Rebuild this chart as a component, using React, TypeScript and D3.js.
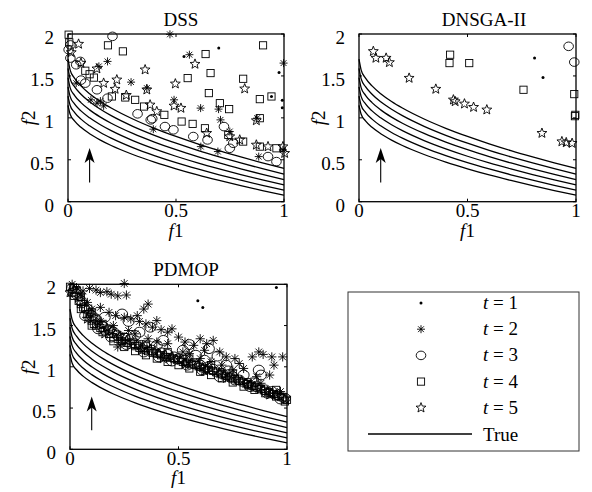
import React from "react";
import * as d3 from "d3";

// ---- tick values ----
const X_TICKS = [0, 0.5, 1];
const Y_TICKS = [0, 0.5, 1, 1.5, 2];
const X_TICK_LABELS = ["0", "0.5", "1"];
const Y_TICK_LABELS = ["0", "0.5", "1", "1.5", "2"];

// ---- true Pareto fronts (f2 sampled at CURVE_F1) ----
const CURVE_F1 = [0, 0.01, 0.03, 0.06, 0.1, 0.15, 0.2, 0.3, 0.4, 0.5, 0.6, 0.7, 0.8, 0.9, 1.0];
const TRUE_FRONT_1 = [1.15, 1.043, 0.964, 0.887, 0.811, 0.735, 0.670, 0.563, 0.472, 0.392, 0.319, 0.253, 0.191, 0.133, 0.078];
const TRUE_FRONT_2 = [1.26, 1.148, 1.066, 0.985, 0.905, 0.825, 0.758, 0.645, 0.550, 0.466, 0.391, 0.321, 0.256, 0.195, 0.138];
const TRUE_FRONT_3 = [1.37, 1.253, 1.167, 1.083, 1.000, 0.917, 0.847, 0.729, 0.630, 0.542, 0.463, 0.391, 0.323, 0.260, 0.200];
const TRUE_FRONT_4 = [1.48, 1.358, 1.269, 1.182, 1.095, 1.009, 0.936, 0.814, 0.711, 0.620, 0.538, 0.462, 0.392, 0.326, 0.263];
const TRUE_FRONT_5 = [1.59, 1.464, 1.372, 1.281, 1.191, 1.102, 1.026, 0.899, 0.792, 0.698, 0.613, 0.535, 0.462, 0.394, 0.329];
const TRUE_FRONT_6 = [1.70, 1.570, 1.474, 1.381, 1.288, 1.195, 1.117, 0.986, 0.875, 0.778, 0.690, 0.609, 0.534, 0.463, 0.396];
const TRUE_FRONTS = [TRUE_FRONT_1, TRUE_FRONT_2, TRUE_FRONT_3, TRUE_FRONT_4, TRUE_FRONT_5, TRUE_FRONT_6];

// arrow showing the direction the front moves over time
const ARROW_F1 = 0.1;
const ARROW_FROM = 0.23;
const ARROW_TO = 0.64;

// ---- DSS ----
const DSS_T1 = [[0.537, 1.733], [0.698, 1.833], [0.977, 1.54], [0.992, 1.21], [0.992, 1.12], [0.942, 1.255]];
const DSS_T2 = [[0.472, 1.996], [0.562, 1.753], [0.998, 1.653], [0.292, 1.426], [0.183, 1.673], [0.143, 1.614],
  [0.038, 1.414], [0.491, 1.215], [0.614, 1.116], [0.697, 1.104], [0.706, 0.976], [0.395, 0.865], [0.615, 0.657],
  [0.694, 0.598], [0.883, 0.538], [0.749, 0.837], [0.106, 1.215], [0.134, 1.175], [0.165, 1.143], [0.995, 0.618],
  [0.365, 1.355], [0.875, 0.996], [0.15, 1.2]];
const DSS_T3 = [[0.206, 1.972], [0.003, 1.813], [0.011, 1.713], [0.057, 1.673], [0.08, 1.414], [0.06, 1.45],
  [0.134, 1.335], [0.183, 1.235], [0.322, 1.048], [0.383, 0.976], [0.449, 0.896], [0.488, 0.857], [0.58, 0.777],
  [0.646, 0.737], [0.722, 0.896], [0.765, 0.697], [0.749, 0.637], [0.926, 0.538], [0.965, 0.478], [0.038, 1.633],
  [0.011, 1.87], [0.39, 0.99]];
const DSS_T4 = [[0.003, 1.992], [0.185, 1.865], [0.254, 1.793], [0.637, 1.761], [0.903, 1.865], [0.66, 1.534],
  [0.554, 1.474], [0.652, 1.295], [0.703, 1.175], [0.746, 1.104], [0.811, 1.466], [0.888, 1.223], [0.942, 1.255],
  [0.888, 0.996], [0.08, 1.562], [0.1, 1.52], [0.203, 1.255], [0.265, 1.243], [0.311, 1.215], [0.352, 1.135],
  [0.446, 1.036], [0.526, 0.956], [0.577, 0.928], [0.634, 0.876], [0.742, 0.797], [0.811, 0.717], [0.888, 0.657],
  [0.965, 0.637], [0.12, 1.48], [0.006, 1.9]];
const DSS_T5 = [[0.049, 1.88], [0.06, 1.653], [0.134, 1.586], [0.226, 1.454], [0.218, 1.343], [0.357, 1.574],
  [0.365, 1.335], [0.497, 1.406], [0.588, 1.641], [0.818, 1.347], [0.491, 1.143], [0.523, 1.116], [0.872, 0.968],
  [0.749, 0.777], [0.795, 0.737], [0.872, 0.677], [0.926, 0.657], [0.995, 0.657], [1.003, 0.578], [0.165, 1.414],
  [0.642, 0.817], [0.411, 1.076], [0.38, 1.155], [0.015, 1.78], [0.27, 1.27]];

// ---- DNSGA-II ----
const DNSGA_T1 = [[0.809, 1.713], [0.848, 1.482]];
const DNSGA_T2: number[][] = [];
const DNSGA_T3 = [[0.966, 1.853], [0.992, 1.665]];
const DNSGA_T4 = [[0.42, 1.753], [0.417, 1.653], [0.508, 1.653], [0.758, 1.335], [0.992, 1.283], [0.997, 1.036],
  [0.995, 1.02]];
const DNSGA_T5 = [[0.066, 1.793], [0.078, 1.713], [0.125, 1.713], [0.14, 1.661], [0.231, 1.474], [0.354, 1.343],
  [0.435, 1.215], [0.443, 1.195], [0.486, 1.167], [0.528, 1.127], [0.589, 1.096], [0.843, 0.817], [0.935, 0.717],
  [0.955, 0.705], [0.982, 0.697]];

// ---- PDMOP ----
const PDMOP_T1 = [[0.589, 1.8], [0.612, 1.72], [0.951, 1.96]];
const PDMOP_T2 = [[0.01, 2.0], [0.03, 1.96], [0.06, 1.92], [0.09, 1.95], [0.12, 1.93], [0.14, 1.9], [0.17, 1.91],
  [0.19, 1.88], [0.22, 1.86], [0.25, 2.01], [0.26, 1.87], [0.08, 1.78], [0.14, 1.72], [0.18, 1.66], [0.21, 1.62],
  [0.25, 1.6], [0.28, 1.58], [0.31, 1.62], [0.34, 1.7], [0.36, 1.76], [0.32, 1.55], [0.35, 1.52], [0.38, 1.48],
  [0.4, 1.56], [0.42, 1.45], [0.45, 1.42], [0.47, 1.46], [0.5, 1.36], [0.53, 1.3], [0.57, 1.26], [0.6, 1.34],
  [0.63, 1.28], [0.66, 1.32], [0.69, 1.18], [0.72, 1.12], [0.76, 1.1], [0.8, 0.98], [0.84, 1.12], [0.87, 1.18],
  [0.89, 1.15], [0.93, 1.12], [0.94, 1.02], [0.98, 1.12], [0.92, 0.9], [0.88, 0.8], [0.22, 1.24], [0.14, 1.55],
  [0.1, 1.7], [0.3, 1.4], [0.45, 1.28], [0.55, 1.16], [0.65, 1.06], [0.75, 0.96], [0.05, 1.88], [0.97, 0.7],
  [0.6, 1.1], [0.7, 1.02], [0.4, 1.3], [0.2, 1.5], [0.27, 1.44], [0.36, 1.34], [0.52, 1.18], [0.62, 1.2],
  [0.78, 1.04], [0.86, 0.88]];
const PDMOP_T3 = [[0.01, 1.95], [0.03, 1.88], [0.05, 1.8], [0.08, 1.7], [0.1, 1.62], [0.12, 1.58], [0.15, 1.49],
  [0.18, 1.45], [0.2, 1.42], [0.22, 1.38], [0.25, 1.35], [0.27, 1.55], [0.28, 1.33], [0.3, 1.28], [0.33, 1.26],
  [0.35, 1.24], [0.37, 1.48], [0.38, 1.2], [0.42, 1.17], [0.45, 1.15], [0.48, 1.12], [0.5, 1.1], [0.53, 1.08],
  [0.55, 1.27], [0.57, 1.04], [0.6, 1.02], [0.63, 0.99], [0.64, 1.22], [0.66, 0.97], [0.68, 1.13], [0.7, 0.92],
  [0.73, 0.95], [0.75, 0.88], [0.78, 0.84], [0.82, 0.8], [0.86, 0.76], [0.87, 0.96], [0.88, 0.9], [0.9, 0.72],
  [0.93, 0.7], [0.96, 0.66], [0.99, 0.62], [0.24, 1.64], [0.16, 1.6], [0.32, 1.42], [0.43, 1.32], [0.52, 1.2],
  [0.07, 1.62], [0.13, 1.46], [0.19, 1.36], [0.26, 1.27], [0.34, 1.18], [0.41, 1.12], [0.47, 1.07], [0.54, 1.02],
  [0.61, 0.96], [0.69, 0.88], [0.76, 0.84], [0.83, 0.76], [0.91, 0.68], [0.97, 0.61], [0.3, 1.38], [0.4, 1.26],
  [0.58, 1.14], [0.62, 1.08], [0.72, 1.02], [0.8, 0.9]];
const PDMOP_T4 = [[0.0, 1.97], [0.01, 1.9], [0.02, 1.86], [0.03, 1.93], [0.04, 1.8], [0.05, 1.76], [0.06, 1.72],
  [0.07, 1.7], [0.08, 1.64], [0.09, 1.6], [0.1, 1.56], [0.11, 1.52], [0.12, 1.5], [0.14, 1.47], [0.16, 1.44],
  [0.18, 1.4], [0.2, 1.36], [0.22, 1.34], [0.24, 1.31], [0.26, 1.29], [0.28, 1.27], [0.3, 1.25], [0.32, 1.23],
  [0.34, 1.21], [0.36, 1.19], [0.38, 1.17], [0.4, 1.16], [0.42, 1.14], [0.44, 1.12], [0.46, 1.11], [0.48, 1.1],
  [0.5, 1.08], [0.52, 1.06], [0.54, 1.05], [0.56, 1.03], [0.58, 1.02], [0.6, 1.0], [0.62, 0.98], [0.64, 0.96],
  [0.66, 0.95], [0.68, 0.93], [0.7, 0.91], [0.72, 0.89], [0.74, 0.87], [0.76, 0.85], [0.78, 0.83], [0.8, 0.81],
  [0.82, 0.79], [0.84, 0.77], [0.86, 0.75], [0.88, 0.73], [0.9, 0.71], [0.92, 0.69], [0.94, 0.67], [0.96, 0.65],
  [0.98, 0.63], [1.0, 0.6], [0.15, 1.52], [0.25, 1.36], [0.35, 1.27], [0.45, 1.18], [0.55, 1.1], [0.65, 1.02],
  [0.75, 0.92], [0.85, 0.82], [0.95, 0.72], [0.05, 1.85], [0.1, 1.66], [0.05, 1.7], [0.1, 1.5], [0.15, 1.42],
  [0.2, 1.31], [0.25, 1.24], [0.3, 1.19], [0.35, 1.14], [0.4, 1.1], [0.45, 1.06], [0.5, 1.02], [0.55, 0.98],
  [0.6, 0.94], [0.65, 0.9], [0.7, 0.86], [0.75, 0.81], [0.8, 0.76], [0.85, 0.72], [0.9, 0.68], [0.95, 0.64],
  [0.99, 0.58]];
const PDMOP_T5 = [[0.0, 1.9], [0.02, 1.93], [0.04, 1.84], [0.06, 1.78], [0.09, 1.66], [0.11, 1.6], [0.13, 1.52],
  [0.17, 1.47], [0.19, 1.43], [0.21, 1.4], [0.23, 1.37], [0.26, 1.32], [0.29, 1.3], [0.31, 1.27], [0.34, 1.23],
  [0.37, 1.21], [0.39, 1.19], [0.41, 1.16], [0.44, 1.14], [0.47, 1.12], [0.49, 1.09], [0.51, 1.08], [0.54, 1.06],
  [0.56, 1.04], [0.59, 1.01], [0.61, 0.99], [0.63, 0.97], [0.67, 0.94], [0.69, 0.92], [0.71, 0.9], [0.74, 0.88],
  [0.77, 0.85], [0.79, 0.83], [0.81, 0.8], [0.83, 0.78], [0.85, 0.76], [0.87, 0.74], [0.89, 0.72], [0.91, 0.7],
  [0.93, 0.68], [0.95, 0.66], [0.97, 0.64], [0.99, 0.61], [0.08, 1.58], [0.16, 1.4], [0.24, 1.3], [0.33, 1.2],
  [0.43, 1.1], [0.53, 1.03], [0.62, 0.95], [0.72, 0.86], [0.82, 0.78], [0.92, 0.66]];

const MARKERS = ["dot", "asterisk", "circle", "square", "star"];
const LEGEND_LABELS = ["1", "2", "3", "4", "5"];

const FONT = "'Liberation Serif', 'Times New Roman', serif";

type Kind = "dot" | "asterisk" | "circle" | "square" | "star";

function starPath(r: number, rIn: number) {
  const pts: string[] = [];
  for (let i = 0; i < 10; i++) {
    const a = -Math.PI / 2 + (i * Math.PI) / 5;
    const rr = i % 2 === 0 ? r : rIn;
    pts.push(`${(rr * Math.cos(a)).toFixed(2)},${(rr * Math.sin(a)).toFixed(2)}`);
  }
  return `M${pts.join("L")}Z`;
}
const STAR = starPath(5.2, 2.2);

function Marker({ kind, x, y, k = 1 }: { kind: Kind; x: number; y: number; k?: number }) {
  const common = { fill: "none", stroke: "#000", strokeWidth: 0.9 };
  switch (kind) {
    case "dot":
      return <circle cx={x} cy={y} r={1.5} fill="#000" />;
    case "asterisk": {
      const s = 4 * k, d = 2.9 * k;
      return (
        <path
          d={`M${x - s},${y}H${x + s}M${x},${y - s}V${y + s}M${x - d},${y - d}L${x + d},${y + d}M${x - d},${y + d}L${x + d},${y - d}`}
          {...common}
        />
      );
    }
    case "circle":
      return <ellipse cx={x} cy={y} rx={4.8 * k} ry={4.3 * k} {...common} />;
    case "square":
      return <rect x={x - 3.6} y={y - 3.6} width={7.2} height={7.2} {...common} />;
    case "star":
      return <path d={STAR} transform={`translate(${x},${y})`} {...common} strokeLinejoin="miter" />;
  }
  return null;
}

type PanelDef = {
  title: string;
  left: number;
  top: number;
  right: number;
  bottom: number;
  titleX: number;
  yLabelX: number;
  markerScale: number;
  series: number[][][];
};

const PANELS: PanelDef[] = [
  { title: "DSS", left: 68, top: 34, right: 284, bottom: 201.7, titleX: 181, yLabelX: 28, markerScale: 1,
    series: [DSS_T1, DSS_T2, DSS_T3, DSS_T4, DSS_T5] },
  { title: "DNSGA-II", left: 359, top: 34, right: 576, bottom: 201.7, titleX: 484, yLabelX: 318, markerScale: 1,
    series: [DNSGA_T1, DNSGA_T2, DNSGA_T3, DNSGA_T4, DNSGA_T5] },
  { title: "PDMOP", left: 70, top: 284.3, right: 287, bottom: 449.3, titleX: 186, yLabelX: 28, markerScale: 1.15,
    series: [PDMOP_T1, PDMOP_T2, PDMOP_T3, PDMOP_T4, PDMOP_T5] },
];

function Panel({ p }: { p: PanelDef }) {
  const x = d3.scaleLinear().domain([0, 1]).range([p.left, p.right]);
  const y = d3.scaleLinear().domain([0, 2]).range([p.bottom, p.top]);
  const line = d3
    .line<number>()
    .x((_, i) => x(CURVE_F1[i]))
    .y((v) => y(v))
    .curve(d3.curveMonotoneX);
  const tickLen = 3;
  const ax = x(ARROW_F1);
  const tipY = y(ARROW_TO);
  const clipId = `clip-${p.title}`;
  return (
    <g>
      <defs>
        <clipPath id={clipId}>
          <rect x={p.left - 6} y={p.top - 6} width={p.right - p.left + 12} height={p.bottom - p.top + 12} />
        </clipPath>
      </defs>
      {/* true fronts */}
      {TRUE_FRONTS.map((f, i) => (
        <path key={i} d={line(f) || ""} fill="none" stroke="#000" strokeWidth={1.3} />
      ))}
      {/* arrow */}
      <line x1={ax} x2={ax} y1={y(ARROW_FROM)} y2={tipY + 8} stroke="#000" strokeWidth={1.1} />
      <path d={`M${ax},${tipY}L${ax - 5},${tipY + 15}L${ax},${tipY + 11}L${ax + 5},${tipY + 15}Z`} fill="#000" />
      {/* obtained solutions */}
      <g clipPath={`url(#${clipId})`}>
        {p.series.map((s, si) =>
          s.map((pt, j) => (
            <Marker key={`${si}-${j}`} kind={MARKERS[si] as Kind} x={x(pt[0])} y={y(pt[1])} k={p.markerScale} />
          ))
        )}
      </g>
      {/* box and ticks */}
      <rect x={p.left} y={p.top} width={p.right - p.left} height={p.bottom - p.top} fill="none" stroke="#000" strokeWidth={1.3} />
      {X_TICKS.map((t) => (
        <g key={`xt${t}`}>
          <line x1={x(t)} x2={x(t)} y1={p.bottom} y2={p.bottom - tickLen} stroke="#000" strokeWidth={1} />
          <line x1={x(t)} x2={x(t)} y1={p.top} y2={p.top + tickLen} stroke="#000" strokeWidth={1} />
        </g>
      ))}
      {Y_TICKS.map((t) => (
        <g key={`yt${t}`}>
          <line x1={p.left} x2={p.left + tickLen} y1={y(t)} y2={y(t)} stroke="#000" strokeWidth={1} />
          <line x1={p.right} x2={p.right - tickLen} y1={y(t)} y2={y(t)} stroke="#000" strokeWidth={1} />
        </g>
      ))}
      {X_TICKS.map((t, i) => (
        <text key={`xl${t}`} x={x(t)} y={p.bottom + 15.5} textAnchor="middle" fontSize={19} fontFamily={FONT}>
          {X_TICK_LABELS[i]}
        </text>
      ))}
      {Y_TICKS.map((t, i) => (
        <text key={`yl${t}`} x={p.left - 14} y={y(t) + 10} textAnchor="end" fontSize={19} fontFamily={FONT}>
          {Y_TICK_LABELS[i]}
        </text>
      ))}
      {/* titles and axis labels */}
      <text x={p.titleX} y={p.top - 8.5} textAnchor="middle" fontSize={19} fontFamily={FONT}>
        {p.title}
      </text>
      <text x={(p.left + p.right) / 2} y={p.bottom + 35} textAnchor="middle" fontSize={19} fontFamily={FONT}>
        <tspan fontStyle="italic">f</tspan>1
      </text>
      <text
        transform={`translate(${p.yLabelX},${(p.top + p.bottom) / 2}) rotate(-90)`}
        textAnchor="middle"
        dominantBaseline="central"
        fontSize={19}
        fontFamily={FONT}
      >
        <tspan fontStyle="italic">f</tspan>2
      </text>
    </g>
  );
}

function Legend() {
  const left = 348, top = 292, right = 579, bottom = 451;
  const rowY = d3.scaleLinear().domain([0, 5]).range([303, 434]);
  const markerX = 421;
  const textX = 483;
  return (
    <g>
      <rect x={left} y={top} width={right - left} height={bottom - top} fill="#fff" stroke="#333" strokeWidth={1} />
      {MARKERS.map((m, i) => (
        <g key={m}>
          <Marker kind={m as Kind} x={markerX} y={rowY(i)} />
          <text x={textX} y={rowY(i) + 6} fontSize={19} fontFamily={FONT}>
            <tspan fontStyle="italic">t</tspan> = {LEGEND_LABELS[i]}
          </text>
        </g>
      ))}
      <line x1={368} x2={472} y1={rowY(5)} y2={rowY(5)} stroke="#000" strokeWidth={1.3} />
      <text x={textX} y={rowY(5) + 6.5} fontSize={19} fontFamily={FONT}>
        True
      </text>
    </g>
  );
}

export default function App() {
  return (
    <svg
      width={592}
      height={492}
      style={{ position: "absolute", left: 0, top: 0, background: "#fff" }}
    >
      <rect width={592} height={492} fill="#fff" />
      {PANELS.map((p) => (
        <Panel key={p.title} p={p} />
      ))}
      <Legend />
    </svg>
  );
}
